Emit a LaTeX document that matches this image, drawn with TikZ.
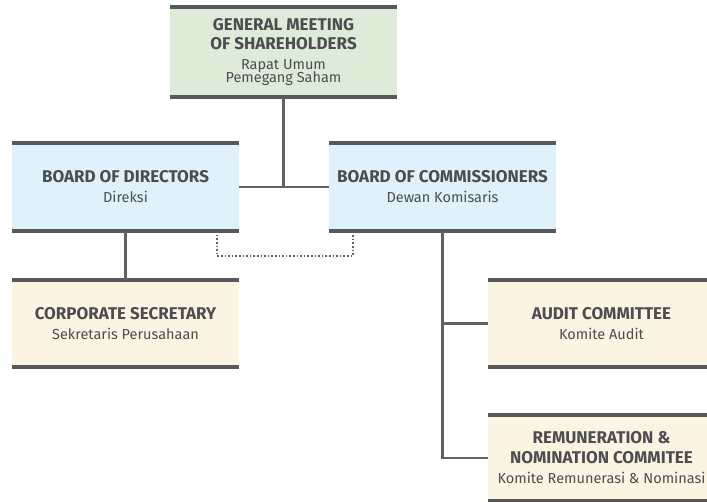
\documentclass[tikz,border=0pt]{standalone}
\usepackage{fontspec}
\setmainfont{Fira Sans}
\usepackage{tikz}

\definecolor{bargray}{HTML}{58595B}
\definecolor{linegray}{HTML}{626262}
\definecolor{textgray}{HTML}{4D4D4F}
\definecolor{gmsgreen}{HTML}{DDEBD9}
\definecolor{boardblue}{HTML}{DFF1FB}
\definecolor{unitcream}{HTML}{FCF4E3}

\newcommand{\orgtitle}[1]{{\fontsize{17}{20}\selectfont\bfseries #1}}
\newcommand{\orgtext}[2]{\orgtitle{#1}\\#2}

\begin{document}
\begin{tikzpicture}[x=1pt,y=-1pt]
            \tikzstyle{every node}+=[inner sep=0pt, text=textgray, font=\fontsize{14.5}{20}\selectfont]
            \tikzstyle{orgbox}=[minimum width=227pt, minimum height=88pt, align=center]
            \tikzstyle{bar}=[bargray, line width=4pt]
            \tikzstyle{link}=[linegray, line width=2.8pt]
            \useasboundingbox (0,0) rectangle (707,502);
            % boxes
            \node [orgbox, fill=gmsgreen, minimum height=90pt] (gms) at (283.5,52)
                {\orgtitle{GENERAL MEETING}\\[-1pt]\orgtitle{OF SHAREHOLDERS}\\Rapat Umum\\[-7pt]Pemegang Saham};
            \node [orgbox, fill=boardblue] (bod) at (125.5,187) {\orgtext{BOARD OF DIRECTORS}{Direksi}};
            \node [orgbox, fill=boardblue] (boc) at (442.5,187) {\orgtext{BOARD OF COMMISSIONERS}{Dewan Komisaris}};
            \node [orgbox, fill=unitcream, minimum height=87pt] (cs) at (125.5,323.5) {\orgtext{CORPORATE SECRETARY}{Sekretaris Perusahaan}};
            \node [orgbox, fill=unitcream, minimum height=87pt] (audit) at (601.5,323.5) {\orgtext{AUDIT COMMITTEE}{Komite Audit}};
            \node [orgbox, fill=unitcream, minimum height=86pt] (rem) at (601.5,458)
                {\orgtitle{REMUNERATION \&}\\\orgtitle{NOMINATION COMMITEE}\\Komite Remunerasi \& Nominasi};
            % top and bottom bars
            \foreach \b in {gms,bod,boc,cs,audit,rem} {
                \draw [bar] (\b.north west) -- (\b.north east);
                \draw [bar] (\b.south west) -- (\b.south east);
            }
            % connectors
            \draw [link] (gms.south) -- (gms.south |- bod.east);
            \draw [link] (bod.east) -- (boc.west);
            \draw [link] (bod.south) -- (cs.north);
            \draw [linegray, line width=1.6pt, dotted] ([xshift=-22pt]bod.south east) -- ++(0,25) -| ([xshift=24pt]boc.south west);
            \draw [link] (boc.south) |- (rem.west);
            \draw [link] (boc.south |- audit.west) -- (audit.west);
            \end{tikzpicture}
\end{document}
